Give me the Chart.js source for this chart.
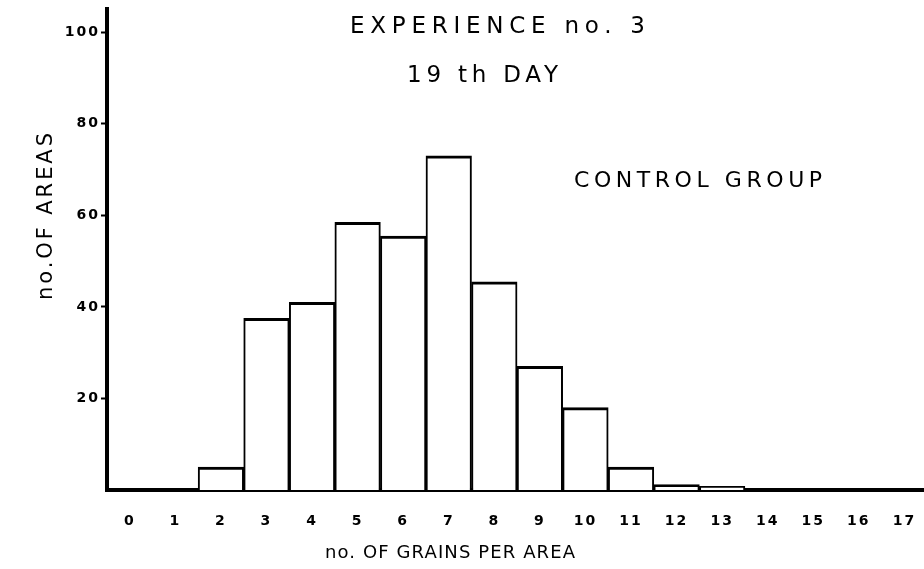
<!DOCTYPE html>
<html>
<head>
<meta charset="utf-8">
<script src="https://cdn.jsdelivr.net/npm/chart.js@4.4.1/dist/chart.umd.min.js"></script>
<style>
html,body{margin:0;padding:0;background:#fff;}
canvas{display:block;}
</style>
</head>
<body>
<canvas id="c" width="924" height="569"></canvas>
<script>
// ---- data ----
const grains = [0,1,2,3,4,5,6,7,8,9,10,11,12,13,14,15,16,17];
const areas  = [0,0,5,37.5,41,58.5,55.5,73,45.5,27,18,5,1.2,0.8,0,0,0,0];
const xTickValues = [0,1,2,3,4,5,6,7,8,9,10,11,12,13,14,15,16,17];
const yTickValues = [20,40,60,80,100];
const titleLine1 = 'EXPERIENCE no. 3';
const titleLine2 = '19 th DAY';
const groupLabel = 'CONTROL GROUP';
const xAxisTitle = 'no. OF GRAINS PER AREA';
const yAxisTitle = 'no.OF AREAS';

const FONT = "'DejaVu Sans', sans-serif";

function spacedText(ctx, text, x, y, targetWidth, size, rotate) {
  ctx.save();
  ctx.font = size + 'px ' + FONT;
  ctx.letterSpacing = '0px';
  const w = ctx.measureText(text).width;
  const sp = Math.max(0, (targetWidth - w) / (text.length - 1));
  ctx.letterSpacing = sp.toFixed(2) + 'px';
  ctx.fillStyle = '#000';
  ctx.textAlign = 'left';
  ctx.textBaseline = 'alphabetic';
  ctx.translate(x, y);
  if (rotate) ctx.rotate(-Math.PI / 2);
  ctx.fillText(text, 0, 0);
  ctx.restore();
}

const textPlugin = {
  id: 'texts',
  beforeDraw(chart) {
    chart.ctx.letterSpacing = '2px';
  },
  afterDraw(chart) {
    const ctx = chart.ctx;
    spacedText(ctx, titleLine1, 350, 33, 295, 23, false);
    spacedText(ctx, titleLine2, 407, 82, 151, 23, false);
    spacedText(ctx, groupLabel, 574, 187, 248, 22, false);
    spacedText(ctx, xAxisTitle, 325, 558, 250, 18, false);
    spacedText(ctx, yAxisTitle, 52, 300, 167, 21, true);
  }
};

new Chart(document.getElementById('c'), {
  type: 'bar',
  data: {
    datasets: [{
      data: grains.map((g, i) => ({x: g, y: areas[i]})),
      backgroundColor: '#fff',
      borderColor: '#000',
      borderWidth: {top: 3, left: 2, right: 2, bottom: 0},
      borderSkipped: 'start',
      barPercentage: 1,
      categoryPercentage: 1
    }]
  },
  options: {
    responsive: false,
    animation: false,
    devicePixelRatio: 1,
    layout: {padding: {top: 9, left: 0, right: 0, bottom: 0}},
    plugins: {legend: {display: false}, tooltip: {enabled: false}, title: {display: false}},
    scales: {
      x: {
        type: 'linear',
        offset: false,
        min: -0.5,
        max: 17.43,
        afterBuildTicks: s => { s.ticks = xTickValues.map(v => ({value: v})); },
        afterFit: s => { s.height = 79; s.paddingLeft = 0; s.paddingRight = 0; },
        grid: {display: false},
        border: {display: true, color: '#000', width: 4},
        ticks: {
          color: '#000',
          padding: 15,
          maxRotation: 0,
          autoSkip: false,
          font: {family: FONT, size: 14, weight: 'bold'}
        }
      },
      y: {
        min: 0,
        max: 105,
        afterBuildTicks: s => { s.ticks = yTickValues.map(v => ({value: v})); },
        afterFit: s => { s.width = 107; },
        grid: {drawOnChartArea: false, drawTicks: true, tickLength: 6, tickWidth: 2, color: '#000'},
        border: {display: true, color: '#000', width: 4},
        ticks: {
          color: '#000',
          padding: 1,
          font: {family: FONT, size: 14, weight: 'bold'}
        }
      }
    }
  },
  plugins: [textPlugin]
});
</script>
</body>
</html>
